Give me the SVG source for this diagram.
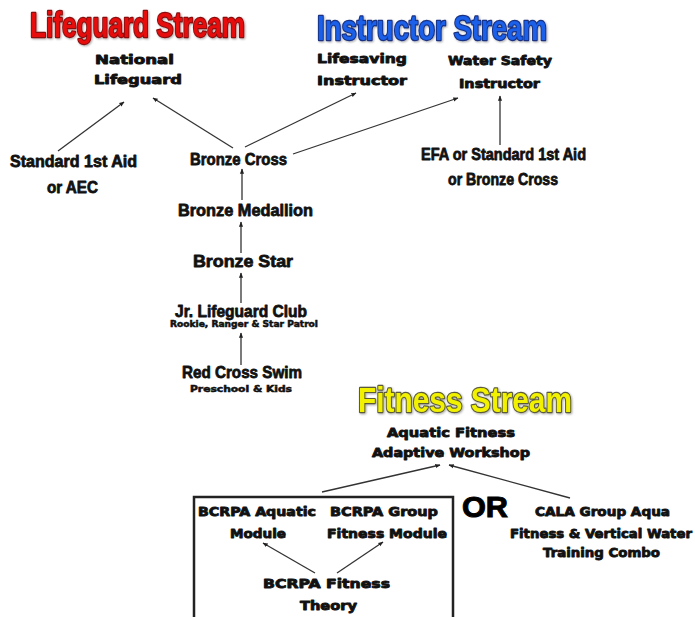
<svg xmlns="http://www.w3.org/2000/svg" width="695" height="617" viewBox="0 0 695 617">
<style>
.title{font-family:"Liberation Sans Narrow","Liberation Sans",Arial,sans-serif;font-weight:bold;font-size:35px;stroke-width:2.4px;paint-order:stroke;stroke-linejoin:round}
.lg{fill:#e81010;stroke:#8a1010}
.in{fill:#1a5ee8;stroke:#1a3080}
.fi{fill:#f2f200;stroke:#5a5a3a}
.w{font-family:"DejaVu Sans","Liberation Sans",sans-serif;font-weight:bold;font-size:13px;fill:#111;stroke:#111;stroke-width:0.9px;stroke-linejoin:round}
.n{font-family:"Liberation Sans Narrow","Liberation Sans",Arial,sans-serif;font-weight:bold;font-size:17px;fill:#111;stroke:#111;stroke-width:0.8px;stroke-linejoin:round}
.s{font-family:"DejaVu Sans","Liberation Sans",sans-serif;font-weight:bold;font-size:8px;fill:#111;stroke:#111;stroke-width:0.5px}
.or{font-family:"Liberation Sans Narrow","Liberation Sans",Arial,sans-serif;font-weight:bold;font-size:29px;fill:#000;stroke:#000;stroke-width:1px}
.c line{stroke:#333;stroke-width:1.3;marker-end:url(#ah)}
</style>
<defs>
<marker id="ah" viewBox="0 0 10 10" refX="9" refY="5" markerWidth="4" markerHeight="4" orient="auto" markerUnits="strokeWidth">
<path d="M0,1 L10,5 L0,9 z" fill="#222"/>
</marker>
<filter id="sh" x="-5%" y="-20%" width="110%" height="140%">
<feGaussianBlur in="SourceAlpha" stdDeviation="1"/>
<feOffset dx="1" dy="1" result="b"/>
<feFlood flood-color="#000" flood-opacity="0.35"/>
<feComposite in2="b" operator="in"/>
<feMerge><feMergeNode/><feMergeNode in="SourceGraphic"/></feMerge>
</filter>
</defs>
<rect width="695" height="617" fill="#fff"/>

<g id="titles" filter="url(#sh)">
<text class="title lg" x="30" y="37" textLength="215" lengthAdjust="spacingAndGlyphs">Lifeguard Stream</text>
<text class="title in" x="317" y="40" textLength="230" lengthAdjust="spacingAndGlyphs">Instructor Stream</text>
<text class="title fi" x="358" y="412" textLength="214" lengthAdjust="spacingAndGlyphs">Fitness Stream</text>
</g>

<g class="c" id="connectors">
<line x1="58" y1="151" x2="124" y2="102"/>
<line x1="233" y1="148" x2="153" y2="98"/>
<line x1="245" y1="147" x2="356" y2="93"/>
<line x1="293" y1="154" x2="458" y2="98"/>
<line x1="500" y1="145" x2="500" y2="96"/>
<line x1="242" y1="200" x2="242" y2="169"/>
<line x1="241" y1="253" x2="241" y2="222"/>
<line x1="241" y1="303" x2="241" y2="273"/>
<line x1="241" y1="365" x2="241" y2="333"/>
<line x1="322" y1="492" x2="440" y2="465"/>
<line x1="570" y1="498" x2="449" y2="465"/>
<line x1="315" y1="573" x2="263" y2="543"/>
<line x1="337" y1="573" x2="383" y2="542"/>
</g>

<g id="national-lifeguard">
<text class="w" x="95" y="64" textLength="79" lengthAdjust="spacingAndGlyphs">National</text>
<text class="w" x="94" y="84" textLength="88" lengthAdjust="spacingAndGlyphs">Lifeguard</text>
</g>
<g id="lifesaving-instructor">
<text class="w" x="317" y="63" textLength="90" lengthAdjust="spacingAndGlyphs">Lifesaving</text>
<text class="w" x="317" y="85" textLength="90" lengthAdjust="spacingAndGlyphs">Instructor</text>
</g>
<g id="water-safety-instructor">
<text class="w" x="448" y="65" textLength="104" lengthAdjust="spacingAndGlyphs">Water Safety</text>
<text class="w" x="459" y="88" textLength="81" lengthAdjust="spacingAndGlyphs">Instructor</text>
</g>
<g id="standard-first-aid">
<text class="n" x="10" y="167" textLength="127" lengthAdjust="spacingAndGlyphs">Standard 1st Aid</text>
<text class="n" x="47" y="193" textLength="51" lengthAdjust="spacingAndGlyphs">or AEC</text>
</g>
<g id="bronze-cross">
<text class="n" x="190" y="165" textLength="97" lengthAdjust="spacingAndGlyphs">Bronze Cross</text>
</g>
<g id="efa">
<text class="n" x="421" y="160" textLength="165" lengthAdjust="spacingAndGlyphs">EFA or Standard 1st Aid</text>
<text class="n" x="448" y="185" textLength="110" lengthAdjust="spacingAndGlyphs">or Bronze Cross</text>
</g>
<g id="bronze-medallion">
<text class="n" x="178" y="216" textLength="135" lengthAdjust="spacingAndGlyphs">Bronze Medallion</text>
</g>
<g id="bronze-star">
<text class="n" x="193" y="267" textLength="100" lengthAdjust="spacingAndGlyphs">Bronze Star</text>
</g>
<g id="jr-lifeguard-club">
<text class="n" x="175" y="317" textLength="132" lengthAdjust="spacingAndGlyphs">Jr. Lifeguard Club</text>
<text class="s" x="170" y="327" font-size="7" textLength="148" lengthAdjust="spacingAndGlyphs">Rookie, Ranger &amp; Star Patrol</text>
</g>
<g id="red-cross-swim">
<text class="n" x="182" y="378" textLength="120" lengthAdjust="spacingAndGlyphs">Red Cross Swim</text>
<text class="s" x="190" y="392" font-size="9" textLength="102" lengthAdjust="spacingAndGlyphs">Preschool &amp; Kids</text>
</g>
<g id="aquatic-fitness">
<text class="w" x="387" y="437" textLength="128" lengthAdjust="spacingAndGlyphs">Aquatic Fitness</text>
<text class="w" x="372" y="457" textLength="158" lengthAdjust="spacingAndGlyphs">Adaptive Workshop</text>
</g>
<g id="bcrpa-box">
<path d="M194,620 V497 H453 V620" fill="none" stroke="#222" stroke-width="2.5"/>
</g>
<g id="or">
<text class="or" x="462" y="517" textLength="46" lengthAdjust="spacingAndGlyphs">OR</text>
</g>
<g id="bcrpa-aquatic">
<text class="w" x="198" y="516" textLength="118" lengthAdjust="spacingAndGlyphs">BCRPA Aquatic</text>
<text class="w" x="230" y="538" textLength="56" lengthAdjust="spacingAndGlyphs">Module</text>
</g>
<g id="bcrpa-group">
<text class="w" x="330" y="516" textLength="108" lengthAdjust="spacingAndGlyphs">BCRPA Group</text>
<text class="w" x="327" y="538" textLength="120" lengthAdjust="spacingAndGlyphs">Fitness Module</text>
</g>
<g id="bcrpa-theory">
<text class="w" x="263" y="588" textLength="127" lengthAdjust="spacingAndGlyphs">BCRPA Fitness</text>
<text class="w" x="300" y="610" textLength="57" lengthAdjust="spacingAndGlyphs">Theory</text>
</g>
<g id="cala">
<text class="w" x="535" y="516" textLength="135" lengthAdjust="spacingAndGlyphs">CALA Group Aqua</text>
<text class="w" x="510" y="538" textLength="182" lengthAdjust="spacingAndGlyphs">Fitness &amp; Vertical Water</text>
<text class="w" x="543" y="557" textLength="117" lengthAdjust="spacingAndGlyphs">Training Combo</text>
</g>
</svg>
